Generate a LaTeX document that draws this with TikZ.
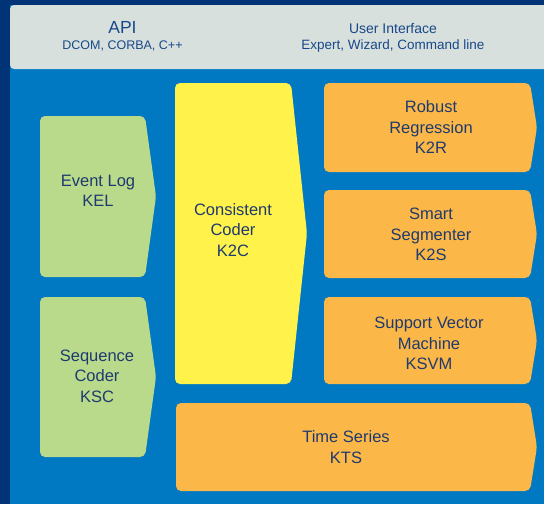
\documentclass[tikz,border=0pt]{standalone}
\usepackage{fontspec}
\setmainfont{Liberation Sans}

\definecolor{framenavy}{RGB}{0,52,118}
\definecolor{panelblue}{RGB}{0,121,194}
\definecolor{bargray}{RGB}{215,224,220}
\definecolor{kgreen}{RGB}{185,218,139}
\definecolor{kyellow}{RGB}{255,242,75}
\definecolor{korange}{RGB}{251,183,71}
\definecolor{textnavy}{RGB}{31,58,110}
\definecolor{bartextblue}{RGB}{25,72,138}

\begin{document}
\begin{tikzpicture}[x=1pt, y=-1pt,
  modtext/.style={text=textnavy, align=center, inner sep=0pt,
    font=\fontsize{16.5}{20.5}\selectfont},
  bartext/.style={text=bartextblue, inner sep=0pt, anchor=base}]

% block: fill, left, top, right, tip, bottom
\def\modblock#1#2#3#4#5#6{%
  \fill[#1, rounded corners=5pt] (#2,#3) -- (#4,#3) -- (#5,{(#3+#6)/2})
    -- (#4,#6) -- (#2,#6) -- cycle;}

\useasboundingbox (0,0) rectangle (544,504);
\clip (0,0) rectangle (544,504);

% frame
\fill[framenavy] (0,0) rectangle (544,504);
\fill[panelblue] (10,5) rectangle (544,504);
\fill[bargray, rounded corners=4pt] (10,5) rectangle (570,69);

% top bar
\node[bartext, font=\fontsize{17.5}{20}\selectfont] (api) at (122.5,33) {API};
\node[bartext, font=\fontsize{12.5}{15}\selectfont] (apilist) at (122.5,49) {DCOM, CORBA, C++};
\node[bartext, font=\fontsize{14}{16}\selectfont] (ui) at (393,33) {User Interface};
\node[bartext, font=\fontsize{13.5}{16}\selectfont] (uilist) at (393,49) {Expert, Wizard, Command line};

% input coders
\modblock{kgreen}{40}{116}{145}{156}{277}
\node[modtext] (kel) at (98,191) {Event Log\\KEL};
\modblock{kgreen}{40}{297}{145}{156}{457}
\node[modtext] (ksc) at (97,376) {Sequence\\Coder\\KSC};

% K2C
\modblock{kyellow}{175}{83}{291}{307}{384}
\node[modtext] (k2c) at (233,230) {Consistent\\Coder\\K2C};

% modelling modules
\modblock{korange}{324}{83}{530}{537}{172}
\node[modtext] (k2r) at (431,127.5) {Robust\\Regression\\K2R};
\modblock{korange}{324}{190}{530}{537}{278}
\node[modtext] (k2s) at (431,234.5) {Smart\\Segmenter\\K2S};
\modblock{korange}{324}{297}{530}{537}{384}
\node[modtext] (ksvm) at (429,343.5) {Support Vector\\Machine\\KSVM};
\modblock{korange}{176}{403}{530}{537}{491}
\node[modtext] (kts) at (346,447) {Time Series\\KTS};

\end{tikzpicture}
\end{document}
